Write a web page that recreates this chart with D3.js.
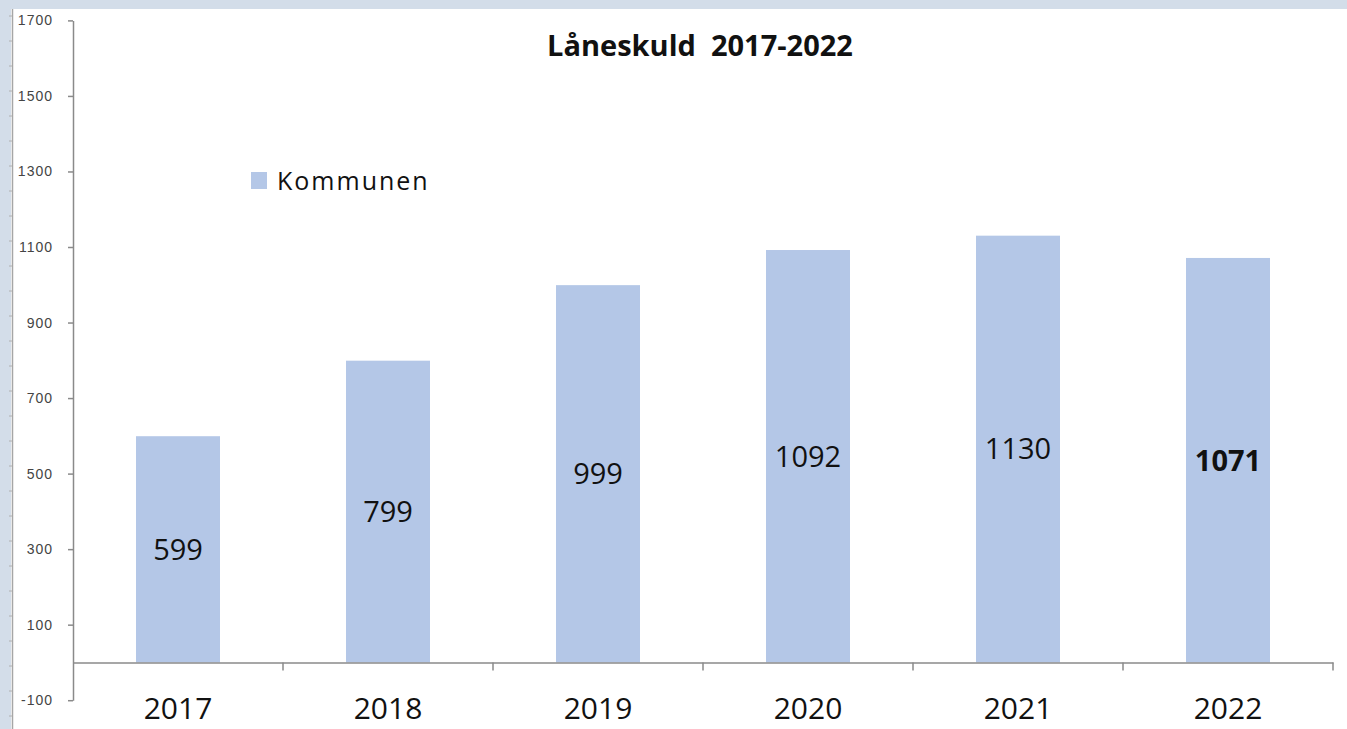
<!DOCTYPE html>
<html>
<head>
<meta charset="utf-8">
<script src="https://d3js.org/d3.v7.min.js"></script>
<style>
  body { margin: 0; background: #d3dde9; }
  svg { display: block; }
  text { font-family: "Open Sans", "Liberation Sans", sans-serif; }
</style>
</head>
<body>
<svg width="1347" height="729"></svg>
<script>
// data
var years = ["2017", "2018", "2019", "2020", "2021", "2022"];
var laneskuld = [599, 799, 999, 1092, 1130, 1071];
var yTicks = [-100, 100, 300, 500, 700, 900, 1100, 1300, 1500, 1700];
var seriesName = "Kommunen";
var title = "Låneskuld  2017-2022";

var barColor = "#b4c7e7";
var axisColor = "#8a8a8a";

var svg = d3.select("svg");

// page frame: light strip top/left, white sheet
svg.append("rect").attr("x", 11).attr("y", 9).attr("width", 1336).attr("height", 720).attr("fill", "#fff");
svg.append("line").attr("x1", 12.5).attr("x2", 12.5).attr("y1", 9).attr("y2", 729)
  .attr("stroke", "#a6a6a6").attr("stroke-width", 1.5);
// little ruler marks on the left edge
d3.range(16, 729, 25).forEach(function (t) {
  svg.append("line").attr("x1", 9).attr("x2", 12).attr("y1", t).attr("y2", t)
    .attr("stroke", "#b0b0b0");
});

var left = 73, right = 1333;

var x = d3.scaleBand()
  .domain(years)
  .range([left, right])
  .paddingInner(0.6)
  .paddingOuter(0.3);

var y = d3.scaleLinear()
  .domain([-100, 1700])
  .range([700.2, 20.4]);

// bars
svg.selectAll(".bar")
  .data(laneskuld)
  .enter().append("rect")
  .attr("class", "bar")
  .attr("x", function (d, i) { return x(years[i]); })
  .attr("width", x.bandwidth())
  .attr("y", function (d) { return y(d); })
  .attr("height", function (d) { return y(0) - y(d); })
  .attr("fill", barColor);

// value labels in middle of bars
svg.selectAll(".val")
  .data(laneskuld)
  .enter().append("text")
  .attr("class", "val")
  .attr("x", function (d, i) { return x(years[i]) + x.bandwidth() / 2; })
  .attr("y", function (d) { return (y(d) + y(0)) / 2; })
  .attr("dy", "0.36em")
  .attr("text-anchor", "middle")
  .style("font-size", "29px")
  .style("font-weight", function (d, i) { return i == laneskuld.length - 1 ? "bold" : "normal"; })
  .attr("fill", "#111")
  .text(function (d) { return d; });

// y axis
var yAxis = svg.append("g")
  .attr("transform", "translate(" + left + ",0)")
  .call(d3.axisLeft(y).tickValues(yTicks).tickSize(5).tickSizeOuter(0).tickPadding(15)
    .tickFormat(function (d) { return String(d); }));
yAxis.select(".domain").attr("stroke", axisColor).attr("stroke-width", 1.5);
yAxis.selectAll(".tick line").attr("stroke", axisColor).attr("stroke-width", 1.5);
yAxis.selectAll(".tick text")
  .style("font-family", "'Liberation Sans', sans-serif")
  .style("font-size", "14px")
  .style("letter-spacing", "1px")
  .attr("fill", "#444");

// x axis at zero
var xAxis = svg.append("g")
  .attr("transform", "translate(0," + y(0) + ")")
  .call(d3.axisBottom(x).tickSize(0).tickSizeOuter(0));
xAxis.select(".domain").attr("stroke", axisColor).attr("stroke-width", 1.5);
xAxis.selectAll(".tick text")
  .attr("y", 57).attr("dy", null)
  .style("font-size", "30px")
  .attr("fill", "#111");

// category boundary ticks
var step = x.step();
xAxis.selectAll(".sep")
  .data(years)
  .enter().append("line")
  .attr("class", "sep")
  .attr("x1", function (d) { return x(d) - step * 0.3 + step; })
  .attr("x2", function (d) { return x(d) - step * 0.3 + step; })
  .attr("y1", 0).attr("y2", 8)
  .attr("stroke", axisColor).attr("stroke-width", 1.5);

// title
svg.append("text")
  .attr("x", 700).attr("y", 56)
  .attr("text-anchor", "middle")
  .style("font-size", "29px")
  .style("font-weight", "bold")
  .style("white-space", "pre")
  .attr("fill", "#111")
  .text(title);

// legend
svg.append("rect").attr("x", 251).attr("y", 172).attr("width", 16).attr("height", 17).attr("fill", barColor);
svg.append("text")
  .attr("x", 277).attr("y", 190)
  .style("font-size", "25px")
  .style("letter-spacing", "2px")
  .attr("fill", "#111")
  .text(seriesName);
</script>
</body>
</html>
